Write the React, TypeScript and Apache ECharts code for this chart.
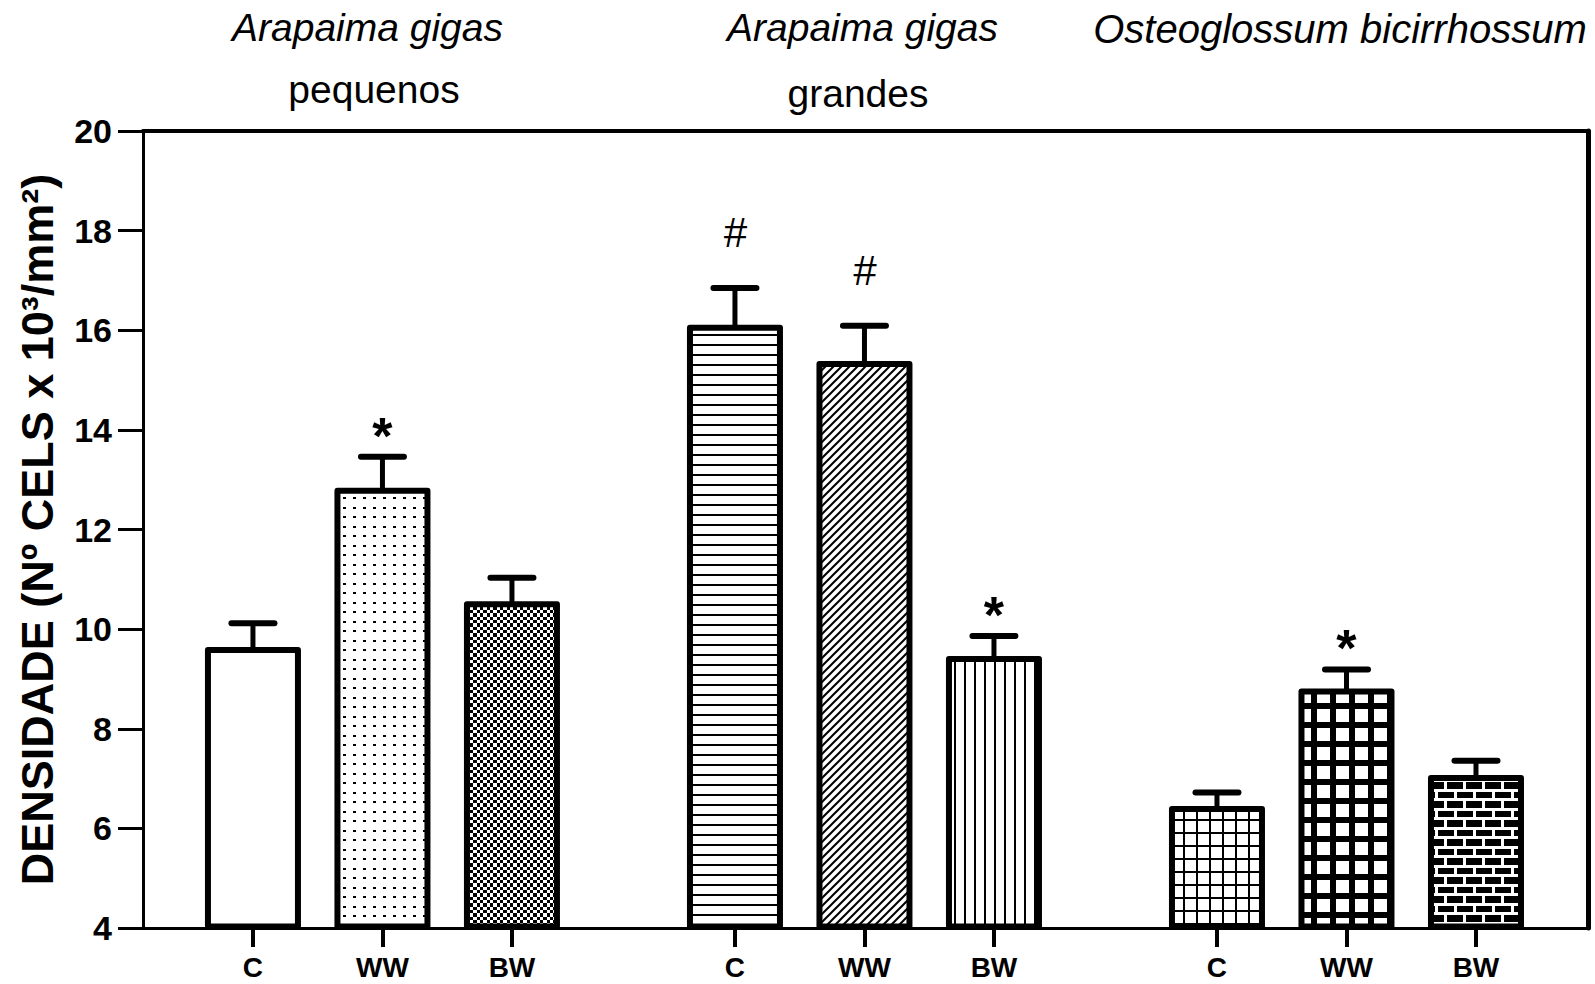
import React, { useEffect, useRef } from "react";
import * as echarts from "echarts";

// ---------- data ----------
const speciesTitles = ["Arapaima gigas", "Arapaima gigas", "Osteoglossum bicirrhossum"];
const sizeSubtitles = ["pequenos", "grandes", ""];
const treatments = ["C", "WW", "BW"];
const means = [9.58, 12.78, 10.5, 16.05, 15.32, 9.4, 6.39, 8.75, 7.01];
const sems = [0.54, 0.68, 0.53, 0.8, 0.77, 0.46, 0.33, 0.44, 0.35];
const marks = ["", "*", "", "#", "#", "*", "", "*", ""];
const Y_MIN = 4;
const Y_MAX = 20;
const Y_STEP = 2;
const yAxisName = "DENSIDADE (Nº CELS x 10³/mm²)";

// ---------- layout ----------
const FONT = '"Liberation Sans", Arial, Helvetica, sans-serif';
const GROUP_STEP = 3.722; // slot units between groups
const X_MIN = -0.849;
const X_MAX = 10.309;
const BAR_W = 0.695;

const xPositions: number[] = [];
const xLabels: string[] = [];
for (let g = 0; g < speciesTitles.length; g++) {
  for (let t = 0; t < treatments.length; t++) {
    xPositions.push(+(g * GROUP_STEP + t).toFixed(4));
    xLabels.push(treatments[t]);
  }
}

function makePattern(w: number, h: number, draw: (ctx: CanvasRenderingContext2D) => void) {
  const c = document.createElement("canvas");
  c.width = w;
  c.height = h;
  const ctx = c.getContext("2d") as CanvasRenderingContext2D;
  ctx.fillStyle = "#fff";
  ctx.fillRect(0, 0, w, h);
  ctx.fillStyle = "#000";
  ctx.strokeStyle = "#000";
  draw(ctx);
  return { image: c, repeat: "repeat", imageWidth: w, imageHeight: h } as any;
}

function buildFills(): any[] {
  return [
    "#ffffff",
    // sparse dots
    makePattern(10, 19, (ctx) => {
      ctx.fillRect(3, 3, 3, 2);
      ctx.fillRect(3, 13, 3, 2);
    }),
    // fine checkerboard
    makePattern(20, 20, (ctx) => {
      const b = [0, 3, 7, 10, 13, 17, 20];
      for (let r = 0; r < 6; r++)
        for (let q = 0; q < 6; q++)
          if ((r + q) % 2 === 0) ctx.fillRect(b[q], b[r], b[q + 1] - b[q], b[r + 1] - b[r]);
    }),
    // horizontal lines
    makePattern(10, 10, (ctx) => {
      ctx.fillRect(0, 4, 10, 2);
    }),
    // diagonal lines
    makePattern(8, 8, (ctx) => {
      ctx.lineWidth = 2;
      ctx.beginPath();
      ctx.moveTo(-1, 9);
      ctx.lineTo(9, -1);
      ctx.moveTo(-1, 1);
      ctx.lineTo(1, -1);
      ctx.moveTo(7, 9);
      ctx.lineTo(9, 7);
      ctx.stroke();
    }),
    // vertical lines
    makePattern(10, 10, (ctx) => {
      ctx.fillRect(4, 0, 2, 10);
    }),
    // fine grid
    makePattern(13, 13, (ctx) => {
      ctx.fillRect(0, 0, 13, 2);
      ctx.fillRect(0, 0, 2, 13);
    }),
    // coarse grid
    makePattern(19, 19, (ctx) => {
      ctx.fillRect(0, 0, 19, 6);
      ctx.fillRect(0, 0, 6, 19);
    }),
    // bricks
    makePattern(38, 19, (ctx) => {
      ctx.fillRect(0, 0, 38, 19);
      ctx.fillStyle = "#fff";
      ctx.fillRect(0, 0, 38, 3);
      ctx.fillRect(0, 10, 38, 3);
      ctx.fillRect(0, 3, 3, 7);
      ctx.fillRect(19, 3, 3, 7);
      ctx.fillRect(10, 13, 3, 6);
      ctx.fillRect(29, 13, 3, 6);
    }),
  ];
}

export default function App() {
  const ref = useRef<HTMLDivElement>(null);

  useEffect(() => {
    if (!ref.current) return;
    const chart = echarts.init(ref.current, undefined, { renderer: "svg" });
    const fills = buildFills();
    const data = xPositions.map((x, i) => [x, means[i], sems[i]]);

    const renderItem = (params: any, api: any) => {
      const i = params.dataIndex;
      const xv = api.value(0);
      const m = api.value(1);
      const e = api.value(2);
      const base = api.coord([xv, Y_MIN]);
      const top = api.coord([xv, m]);
      const cap = api.coord([xv, m + e]);
      const bw = api.size([BAR_W, 0])[0];
      const children: any[] = [
        {
          type: "line",
          shape: { x1: top[0], y1: top[1], x2: cap[0], y2: cap[1] },
          style: { stroke: "#000", lineWidth: 5 },
        },
        {
          type: "line",
          shape: { x1: cap[0] - 21.5, y1: cap[1], x2: cap[0] + 21.5, y2: cap[1] },
          style: { stroke: "#000", lineWidth: 6, lineCap: "round" },
        },
        {
          type: "rect",
          shape: { x: top[0] - bw / 2, y: top[1], width: bw, height: base[1] - 1.5 - top[1] },
          style: { fill: fills[i], stroke: "#000", lineWidth: 6, lineJoin: "round" },
        },
      ];
      const mk = marks[i];
      if (mk) {
        const isStar = mk === "*";
        children.push({
          type: "text",
          x: cap[0],
          y: cap[1] - (isStar ? 21 : 55),
          style: {
            text: mk,
            fill: "#000",
            font: isStar ? `bold 52px ${FONT}` : `italic 42px ${FONT}`,
            align: "center",
            verticalAlign: "middle",
          },
        });
      }
      return { type: "group", children };
    };

    const titleX = [367.5, 862.5, 1340];
    const titleY = [27.5, 27.5, 29];
    const subX = [374, 858];
    const subY = [89.5, 93.5];
    const graphics: any[] = [];
    speciesTitles.forEach((t, g) => {
      graphics.push({
        type: "text",
        x: titleX[g],
        y: titleY[g],
        style: {
          text: t,
          fill: "#000",
          font: `italic ${g === 2 ? 40 : 39}px ${FONT}`,
          align: "center",
          verticalAlign: "middle",
        },
      });
      if (sizeSubtitles[g]) {
        graphics.push({
          type: "text",
          x: subX[g],
          y: subY[g],
          style: {
            text: sizeSubtitles[g],
            fill: "#000",
            font: `39px ${FONT}`,
            align: "center",
            verticalAlign: "middle",
          },
        });
      }
    });

    const option: any = {
      animation: false,
      backgroundColor: "#ffffff",
      grid: { left: 143, top: 131, width: 1445, height: 797, containLabel: false, outerBoundsMode: "none" },
      xAxis: [
        {
          type: "value",
          min: X_MIN,
          max: X_MAX,
          position: "bottom",
          axisLine: { show: true, onZero: false, lineStyle: { color: "#000", width: 3 } },
          axisTick: { show: true, customValues: xPositions, length: 19, lineStyle: { color: "#000", width: 4 } },
          axisLabel: {
            show: true,
            customValues: xPositions,
            formatter: (v: number) => {
              let best = 0;
              for (let k = 1; k < xPositions.length; k++)
                if (Math.abs(xPositions[k] - v) < Math.abs(xPositions[best] - v)) best = k;
              return xLabels[best];
            },
            margin: 25,
            fontSize: 28,
            fontWeight: "bold",
            fontFamily: FONT,
            color: "#000",
          },
          splitLine: { show: false },
        },
        {
          type: "value",
          min: X_MIN,
          max: X_MAX,
          position: "top",
          axisLine: { show: true, onZero: false, lineStyle: { color: "#000", width: 4 } },
          axisTick: { show: false },
          axisLabel: { show: false },
          splitLine: { show: false },
        },
      ],
      yAxis: [
        {
          type: "value",
          min: Y_MIN,
          max: Y_MAX,
          interval: Y_STEP,
          position: "left",
          name: yAxisName,
          nameLocation: "middle",
          nameGap: 83,
          nameTextStyle: { fontSize: 45, fontWeight: "bold", fontFamily: FONT, color: "#000" },
          axisLine: { show: true, onZero: false, lineStyle: { color: "#000", width: 3 } },
          axisTick: { show: true, length: 25, lineStyle: { color: "#000", width: 3 } },
          axisLabel: { margin: 31, fontSize: 34, fontWeight: "bold", fontFamily: FONT, color: "#000" },
          splitLine: { show: false },
        },
        {
          type: "value",
          min: Y_MIN,
          max: Y_MAX,
          interval: Y_STEP,
          position: "right",
          axisLine: { show: true, onZero: false, lineStyle: { color: "#000", width: 5 } },
          axisTick: { show: false },
          axisLabel: { show: false },
          splitLine: { show: false },
        },
      ],
      graphic: graphics,
      series: [
        {
          type: "custom",
          xAxisIndex: 0,
          yAxisIndex: 0,
          renderItem,
          encode: { x: 0, y: 1 },
          data,
          clip: false,
          z: 10,
        },
      ],
    };
    chart.setOption(option);
    return () => chart.dispose();
  }, []);

  return (
    <div
      ref={ref}
      style={{ position: "fixed", left: 0, top: 0, width: 1595, height: 984, background: "#fff" }}
    />
  );
}
